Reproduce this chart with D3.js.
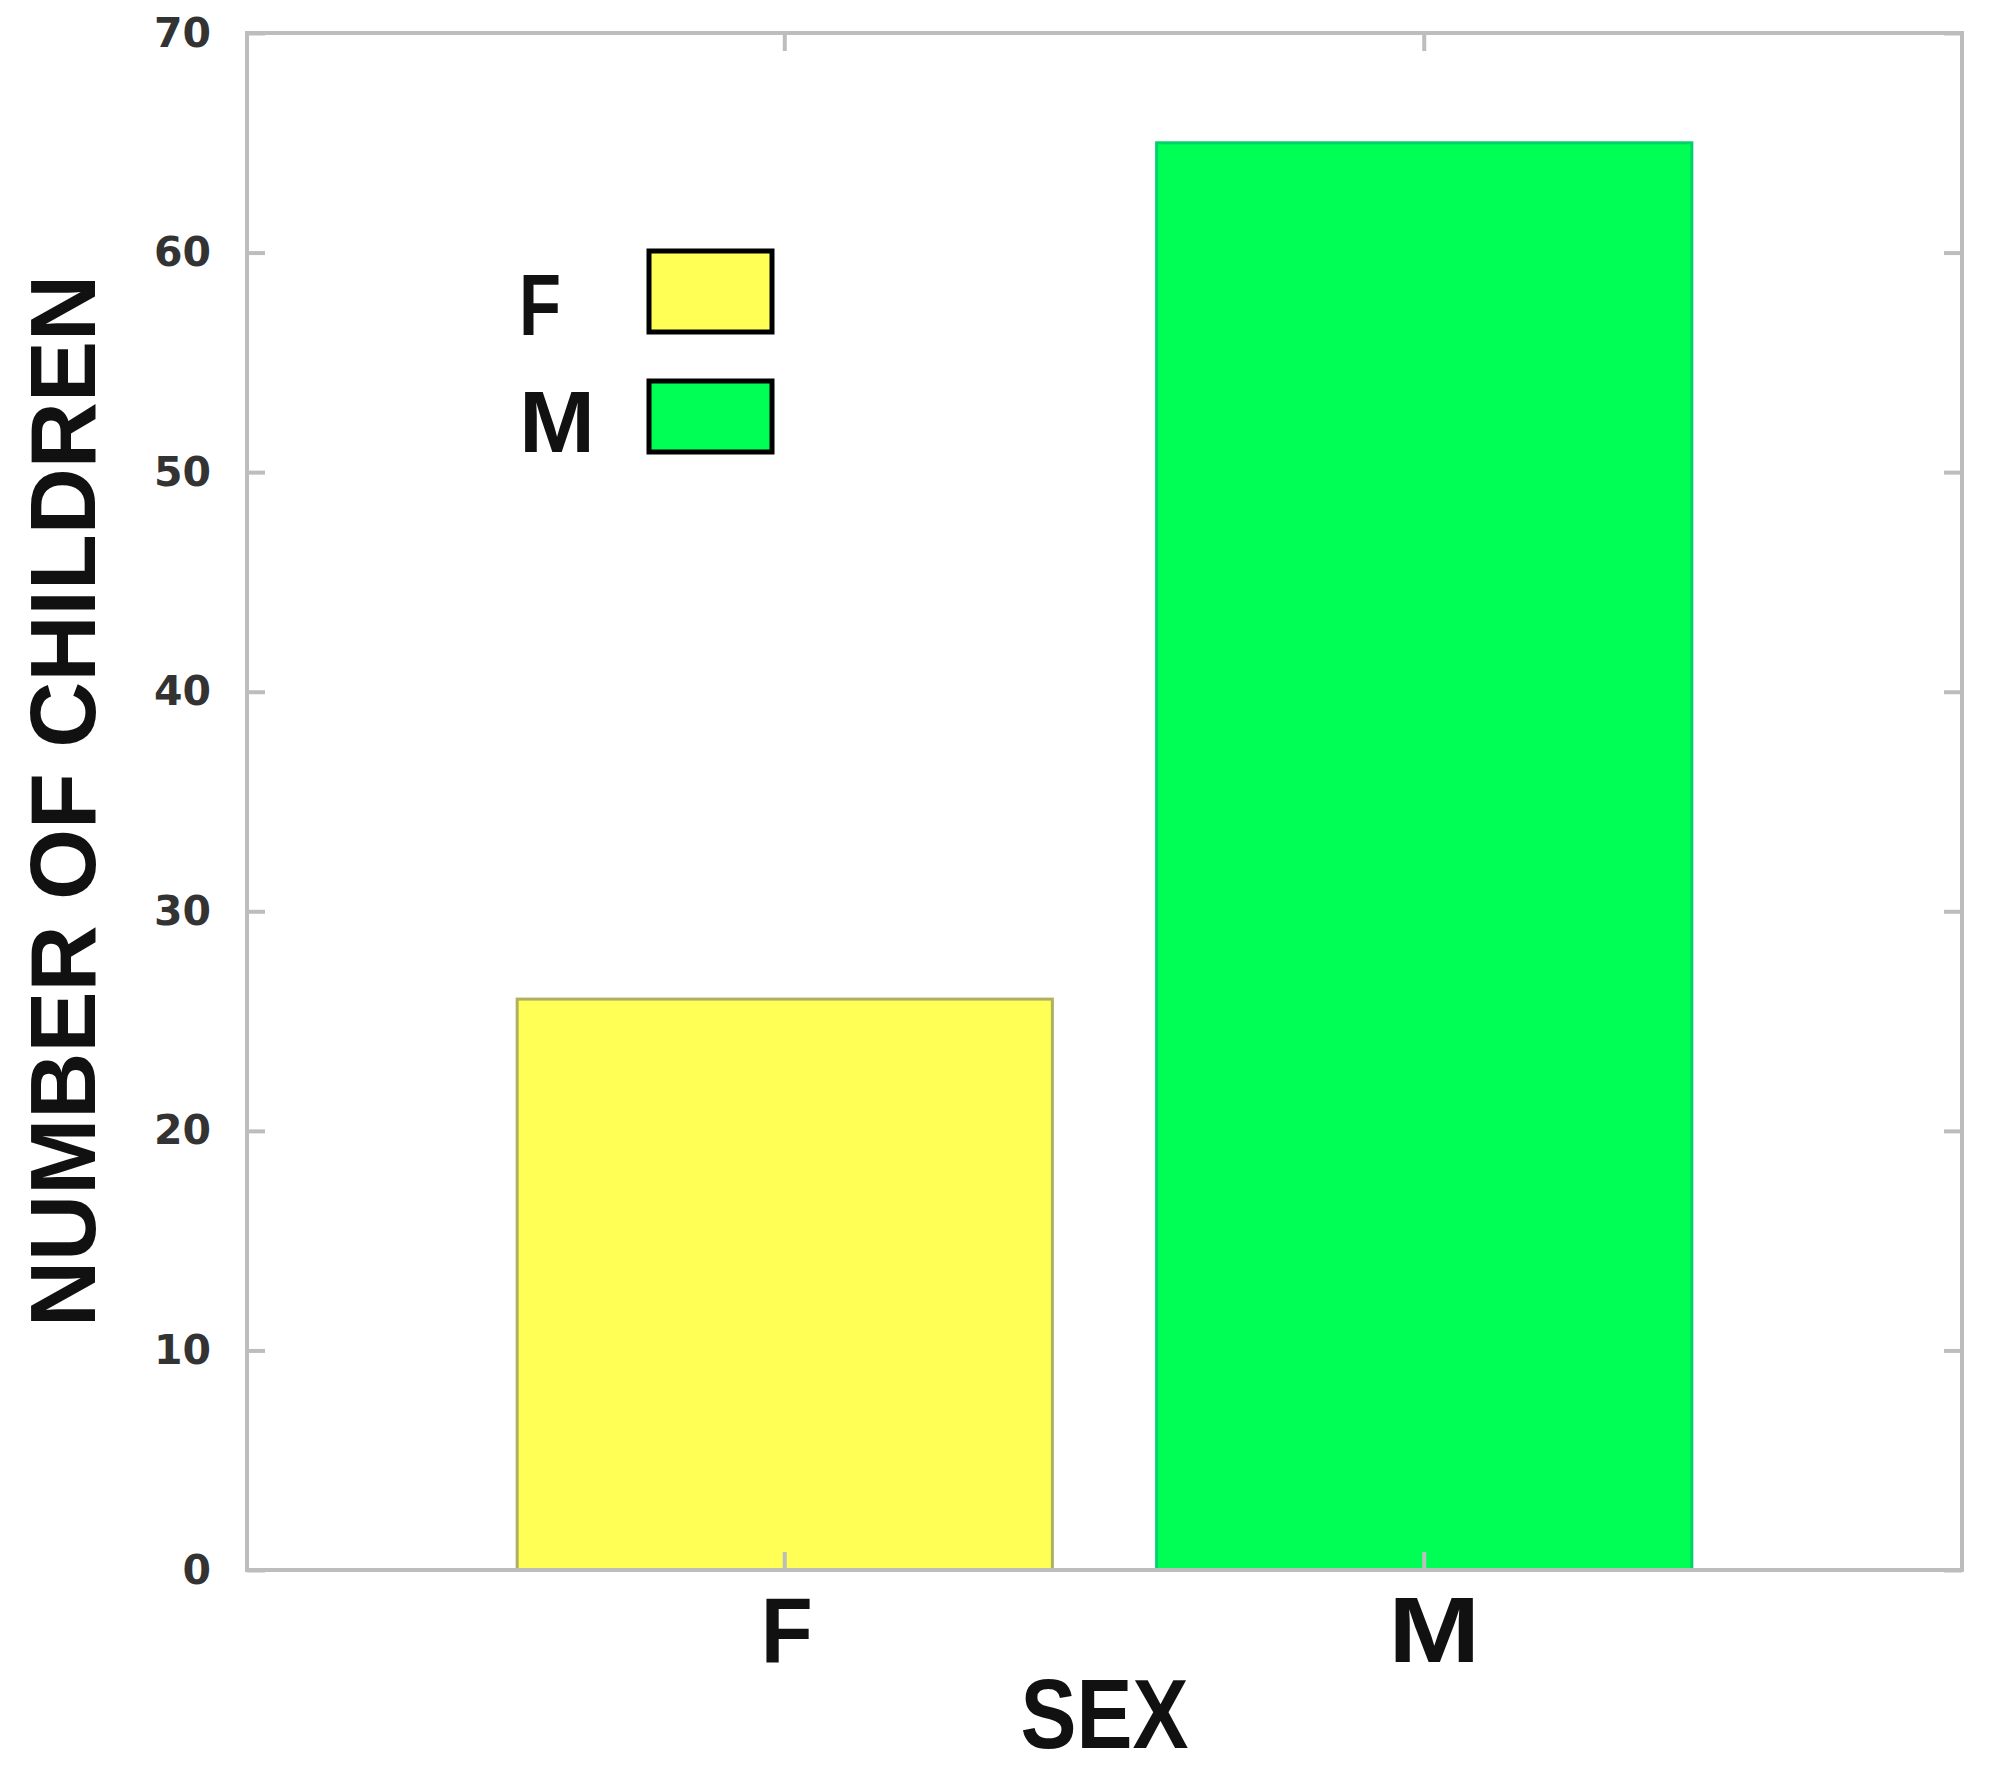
<!DOCTYPE html>
<html>
<head>
<meta charset="utf-8">
<script src="https://cdn.jsdelivr.net/npm/d3@7"></script>
<style>
  html, body { margin: 0; padding: 0; background: #fff; }
  svg { display: block; }
</style>
</head>
<body>
<script>
// ---- data ----
const categories = ["F", "M"];
const counts = [26, 65];
const barColors = ["#FFFF55", "#00FF55"];
const barStrokes = ["#B0B060", "#00D36A"];
const yTickValues = [0, 10, 20, 30, 40, 50, 60, 70];
const legendLabels = ["F", "M"];
const xTitle = "SEX";
const yTitle = "NUMBER OF CHILDREN";

// ---- layout ----
const W = 1989, H = 1770;
const L = 247, R = 1962, T = 33, B = 1570;

const svg = d3.select("body").append("svg").attr("width", W).attr("height", H);
svg.append("rect").attr("width", W).attr("height", H).attr("fill", "#fff");

const x = d3.scaleBand().domain(categories).range([L, R])
  .paddingInner(0.163).paddingOuter(0.4225);
const y = d3.scaleLinear().domain([0, 70]).range([B, T]);

// bars
svg.selectAll("rect.bar").data(categories).enter().append("rect")
  .attr("class", "bar")
  .attr("x", d => x(d))
  .attr("width", x.bandwidth())
  .attr("y", (d, i) => y(counts[i]))
  .attr("height", (d, i) => y(0) - y(counts[i]))
  .attr("fill", (d, i) => barColors[i])
  .attr("stroke", (d, i) => barStrokes[i])
  .attr("stroke-width", 3);

// axes
const tickLen = 18;
const axisColor = "#bdbdbd";
function styleAxis(g) {
  g.select(".domain").remove();
  g.selectAll(".tick line").attr("stroke", axisColor).attr("stroke-width", 4);
}

const yLeft = svg.append("g").attr("transform", `translate(${L},0)`)
  .call(d3.axisLeft(y).tickValues(yTickValues).tickSize(-tickLen).tickPadding(36));
styleAxis(yLeft);
yLeft.selectAll(".tick text")
  .attr("font-family", "'DejaVu Sans', sans-serif")
  .attr("font-weight", "bold").attr("font-size", 41).attr("fill", "#333");

const yRight = svg.append("g").attr("transform", `translate(${R},0)`)
  .call(d3.axisRight(y).tickValues(yTickValues).tickSize(-tickLen).tickFormat(""));
styleAxis(yRight);

const xTop = svg.append("g").attr("transform", `translate(0,${T})`)
  .call(d3.axisTop(x).tickSize(-tickLen).tickFormat(""));
styleAxis(xTop);

const xBottom = svg.append("g").attr("transform", `translate(0,${B})`)
  .call(d3.axisBottom(x).tickSize(-tickLen).tickPadding(27));
styleAxis(xBottom);
xBottom.selectAll(".tick text")
  .attr("font-family", "'Liberation Sans', Arial, sans-serif")
  .attr("font-weight", "bold").attr("font-size", 92).attr("fill", "#111")
  .attr("dx", d => d === "M" ? 10 : 2)
  .attr("textLength", d => d === "M" ? 92 : 52)
  .attr("lengthAdjust", "spacingAndGlyphs");

// frame
svg.append("rect").attr("x", L).attr("y", T).attr("width", R - L).attr("height", B - T)
  .attr("fill", "none").attr("stroke", axisColor).attr("stroke-width", 4);

// axis titles
svg.append("text")
  .attr("x", (L + R) / 2).attr("y", 1748)
  .attr("text-anchor", "middle")
  .attr("font-family", "'Liberation Sans', Arial, sans-serif")
  .attr("font-weight", "bold").attr("font-size", 99).attr("fill", "#111")
  .attr("textLength", 168).attr("lengthAdjust", "spacingAndGlyphs")
  .text(xTitle);

svg.append("text")
  .attr("transform", "translate(95,801) rotate(-90)")
  .attr("text-anchor", "middle")
  .attr("font-family", "'Liberation Sans', Arial, sans-serif")
  .attr("font-weight", "bold").attr("font-size", 93).attr("fill", "#111")
  .attr("textLength", 1052).attr("lengthAdjust", "spacingAndGlyphs")
  .text(yTitle);

// legend
const legBoxes = [{y: 249, h: 85}, {y: 379, h: 75}];
const legBaselines = [335, 452];
const leg = svg.append("g");
legendLabels.forEach((lab, i) => {
  leg.append("rect")
    .attr("x", 649).attr("y", legBoxes[i].y + 2)
    .attr("width", 123).attr("height", legBoxes[i].h - 4)
    .attr("fill", barColors[i]).attr("stroke", "#000").attr("stroke-width", 5);
  leg.append("text")
    .attr("x", 519).attr("y", legBaselines[i])
    .attr("font-family", "'Liberation Sans', Arial, sans-serif")
    .attr("font-weight", "bold").attr("font-size", 88).attr("fill", "#111")
    .attr("textLength", lab === "M" ? 76 : 42).attr("lengthAdjust", "spacingAndGlyphs")
    .text(lab);
});
</script>
</body>
</html>
